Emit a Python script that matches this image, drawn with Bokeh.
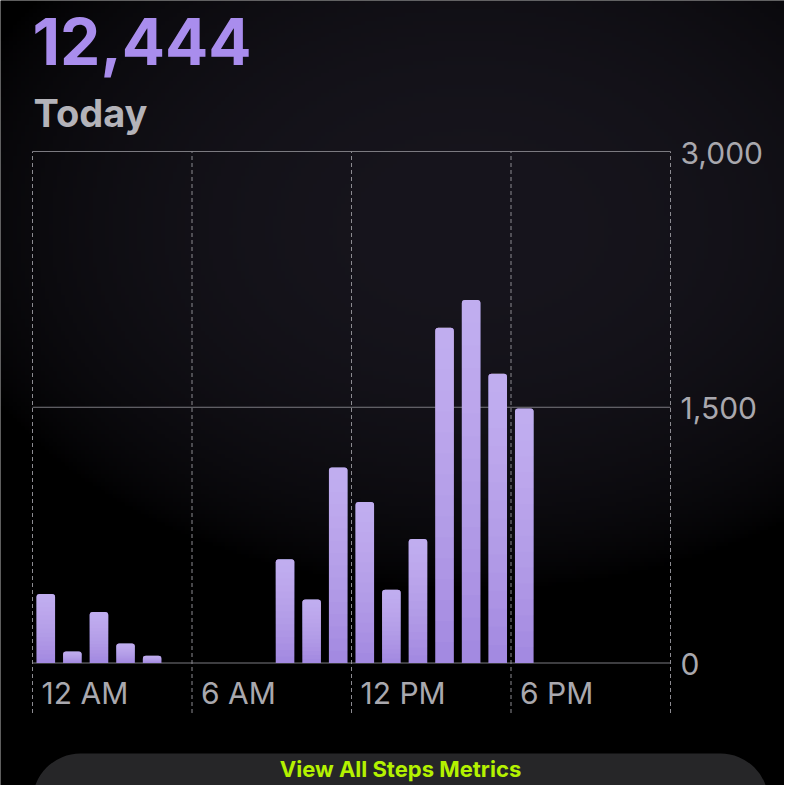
import numpy as np
from bokeh.plotting import figure
from bokeh.models import Range1d, Label, BoxAnnotation
from bokeh.core.properties import value
from bokeh.embed import file_html
from bokeh.resources import INLINE

# ---------------- data ----------------
hours = list(range(19))                      # hour of day (bars start at each hour)
steps = [405, 68, 299, 115, 42, 0, 0, 0, 0,
         608, 373, 1147, 945, 429, 728, 1967, 2129, 1696, 1493]
y_ticks = [0, 1500, 3000]
x_ticks = [0, 6, 12, 18, 24]
x_tick_labels = ["12 AM", "6 AM", "12 PM", "6 PM"]
period_label = "Today"
button_label = "View All Steps Metrics"

# ---------------- layout (pixels) ----------------
W, H = 784, 785
X0_PX, X24_PX = 32.0, 670.0    # px of hour 0 / hour 24
Y0_PX, YTOP_PX = 662.5, 151.0  # px of 0 / 3000 steps
ppx = (X24_PX - X0_PX) / 24.0
ppy = (Y0_PX - YTOP_PX) / 3000.0
x_lo = -X0_PX / ppx
x_hi = 24 + (W - X24_PX) / ppx
y_hi = 3000 + YTOP_PX / ppy
y_lo = -(H - Y0_PX) / ppy


def fx(px):
    return (px - X0_PX) / ppx


def fy(py):
    return (Y0_PX - py) / ppy


p = figure(width=W, height=H, x_range=Range1d(x_lo, x_hi), y_range=Range1d(y_lo, y_hi),
           output_backend="svg", toolbar_location=None, min_border=0,
           x_axis_location=None, y_axis_location=None)
p.grid.visible = False
p.outline_line_color = None
p.background_fill_color = "#000000"
p.border_fill_color = "#000000"

# ---------------- background glow ----------------
rows, cols = 197, 196
ry = H - (np.arange(rows) + 0.5) * H / rows          # row 0 at bottom
rx = (np.arange(cols) + 0.5) * W / cols
RX, RY = np.meshgrid(rx, ry)
sy = np.where(RY < 230, 390.0, 360.0)
r2 = ((RX - 470) / 540.0) ** 2 + ((RY - 230) / sy) ** 2
inten = np.clip(1 - r2, 0, 1) ** 0.7
img = np.zeros((rows, cols), dtype=np.uint32)
view = img.view(dtype=np.uint8).reshape((rows, cols, 4))
view[..., 0] = (23 * inten).astype(np.uint8)
view[..., 1] = (21 * inten).astype(np.uint8)
view[..., 2] = (29 * inten).astype(np.uint8)
view[..., 3] = 255
p.image_rgba(image=[img], x=x_lo, y=y_lo, dw=x_hi - x_lo, dh=y_hi - y_lo)

# ---------------- grid ----------------
p.segment(x0=[x_ticks[0]] * len(y_ticks), x1=[x_ticks[-1]] * len(y_ticks),
          y0=y_ticks, y1=y_ticks, line_color="#7b7a80", line_width=1)
dash_bottom = -50 / ppy
p.segment(x0=x_ticks, x1=x_ticks, y0=[dash_bottom] * len(x_ticks), y1=[y_ticks[-1]] * len(x_ticks),
          line_color="#8c8b91", line_width=1, line_dash="4 3")

# ---------------- bars ----------------
h = np.array(hours, dtype=float)
s = np.array(steps, dtype=float)
m = s > 0
xc = h[m] + 0.5
top = s[m]
BW = 0.7
p.vbar(x=xc, width=BW, top=top, bottom=0, fill_color="#a38ae1", line_color=None,
       border_radius=(3, 3, 0, 0))
N = 16
ox = np.tile(xc, N - 1)
otop = np.tile(top, N - 1)
obot = np.concatenate([top * k / N for k in range(1, N)])
p.vbar(x=ox, width=BW, top=otop, bottom=obot, fill_color="#d6c8fd", fill_alpha=0.058,
       line_color=None, border_radius=(3, 3, 0, 0))

# ---------------- tick labels ----------------
p.text(x=x_ticks[:len(x_tick_labels)], y=[0] * len(x_tick_labels), text=x_tick_labels,
       x_offset=9, y_offset=30, text_baseline="middle", text_align="left",
       text_font=value("Inter"), text_font_size="30px", text_color="#a9a8ae")
p.text(x=[x_ticks[-1]] * len(y_ticks), y=y_ticks, text=[f"{v:,}" for v in y_ticks],
       x_offset=10, y_offset=1, text_baseline="middle", text_align="left",
       text_font=value("Inter"), text_font_size="30px", text_color="#a9a8ae")

# ---------------- header ----------------
p.add_layout(Label(x=fx(32), y=fy(41), text=f"{sum(steps):,}", text_font="Inter",
                   text_font_size="64px", text_font_style="bold", text_color="#a98ded",
                   text_baseline="middle"))
p.add_layout(Label(x=fx(33), y=fy(112), text=period_label, text_font="Inter",
                   text_font_size="38px", text_font_style="bold", text_color="#b4b3b9",
                   text_baseline="middle"))

# ---------------- button ----------------
p.add_layout(BoxAnnotation(left=fx(32), right=fx(768), top=fy(753), bottom=fy(900),
                           fill_color="#262628", fill_alpha=1.0, line_color=None,
                           border_radius=48))
p.add_layout(Label(x=fx(400), y=fy(768), text=button_label, text_font="Inter",
                   text_font_size="22px", text_font_style="bold", text_color="#b4f200",
                   text_align="center", text_baseline="middle"))

open("out.html", "w").write(file_html(p, INLINE))
